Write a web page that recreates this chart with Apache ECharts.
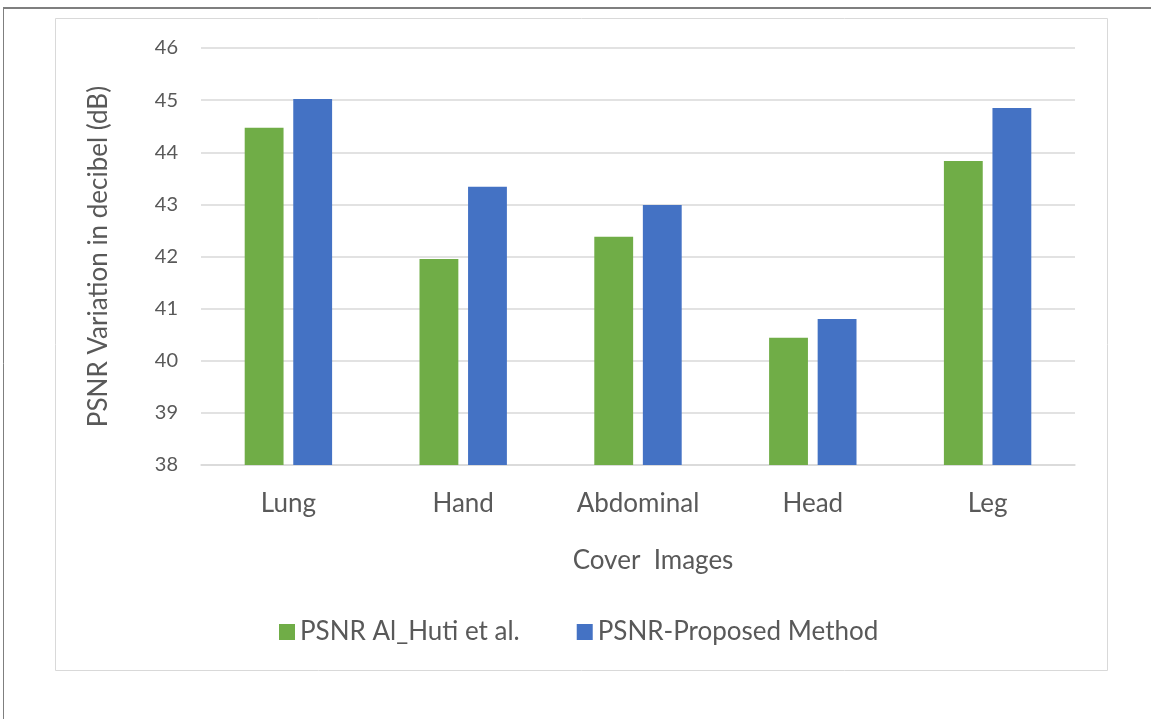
<!DOCTYPE html>
<html><head><meta charset="utf-8">
<script src="https://cdn.jsdelivr.net/npm/echarts@6/dist/echarts.min.js"></script>
<style>html,body{margin:0;padding:0;background:#fff}#c{width:1151px;height:719px}</style>
</head><body><div id="c"></div>
<script>
const categories = ['Lung', 'Hand', 'Abdominal', 'Head', 'Leg'];
const seriesNames = ['PSNR Al_Huti et al.', 'PSNR-Proposed Method'];
const alHuti = [44.47, 41.95, 42.38, 40.44, 43.83];
const proposed = [45.02, 43.34, 42.99, 40.80, 44.85];
const yTicks = [38, 39, 40, 41, 42, 43, 44, 45, 46];

const FONT = 'Lato, "Open Sans", sans-serif';
const TXT = '#595959';
const chart = echarts.init(document.getElementById('c'), null, {renderer: 'canvas'});
chart.setOption({
  backgroundColor: '#fff',
  animation: false,
  textStyle: {fontFamily: FONT, color: TXT},
  graphic: [
    {type: 'rect', shape: {x: 55.5, y: 18.5, width: 1052, height: 652}, style: {fill: 'none', stroke: '#D9D9D9', lineWidth: 1}, z: -1},
    {type: 'line', shape: {x1: 3, y1: 8, x2: 1151, y2: 8}, style: {stroke: '#7F7F7F', lineWidth: 2}},
    {type: 'line', shape: {x1: 3.5, y1: 8, x2: 3.5, y2: 719}, style: {stroke: '#7F7F7F', lineWidth: 1}}
  ],
  legend: {
    top: 614, left: 274,
    itemWidth: 16, itemHeight: 16, itemGap: 57, itemTextGap: 8,
    icon: 'rect',
    textStyle: {fontFamily: FONT, fontSize: 26, color: TXT},
    data: seriesNames
  },
  grid: {left: 201, right: 76, top: 48, bottom: 254},
  xAxis: {
    type: 'category', data: categories,
    name: 'Cover  Images', nameLocation: 'middle', nameGap: 83,
    nameTextStyle: {fontFamily: FONT, fontSize: 26, color: TXT, padding: [0, 0, 0, 30]},
    axisLine: {lineStyle: {color: '#D9D9D9', width: 1.5}},
    axisTick: {show: false},
    axisLabel: {fontFamily: FONT, fontSize: 26, color: TXT, margin: 26}
  },
  yAxis: {
    type: 'value', min: 38, max: 46, interval: 1,
    name: 'PSNR Variation in decibel (dB)', nameLocation: 'middle', nameGap: 89,
    nameTextStyle: {fontFamily: FONT, fontSize: 26, color: TXT},
    axisLine: {show: false}, axisTick: {show: false},
    axisLabel: {fontFamily: FONT, fontSize: 20, color: TXT, margin: 23,
      formatter: v => yTicks.includes(v) ? String(v) : ''},
    splitLine: {lineStyle: {color: '#D9D9D9', width: 1.5}}
  },
  series: [
    {name: seriesNames[0], type: 'bar', data: alHuti, itemStyle: {color: '#70AD47'}, barGap: '25%', barCategoryGap: '50%'},
    {name: seriesNames[1], type: 'bar', data: proposed, itemStyle: {color: '#4472C4'}, barGap: '25%', barCategoryGap: '50%'}
  ]
});
</script></body></html>
